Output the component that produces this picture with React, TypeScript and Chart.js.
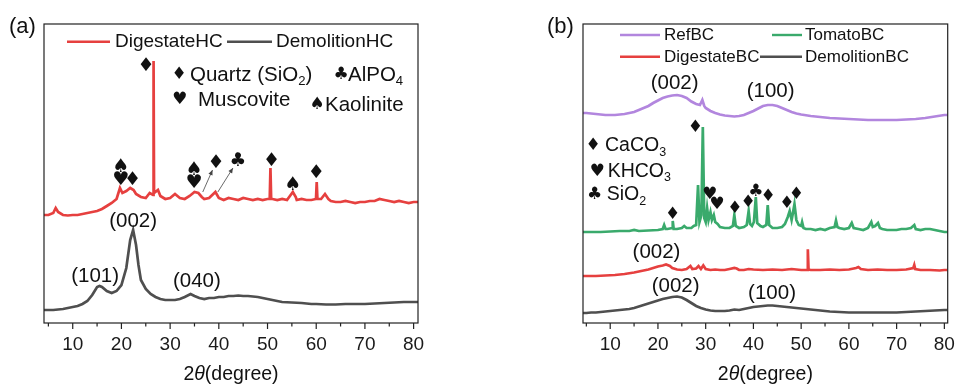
import React, { useEffect, useRef } from 'react';
import { Chart, registerables } from 'chart.js';
Chart.register(...registerables);

const FONT = "'Liberation Sans', Arial, Helvetica, sans-serif";
const SYM_FONT = "'DejaVu Sans', sans-serif";

const TICK_VALUES = [10, 20, 30, 40, 50, 60, 70, 80];
const MINOR_TICK_VALUES = [5, 15, 25, 35, 45, 55, 65, 75];

// ---------- Panel (a) ----------
const digestateHC_x = [4.1, 5, 6, 6.5, 7, 8, 9, 10, 11, 12, 13, 14, 15, 16, 17, 18, 19, 19.7, 20.2, 21, 21.8, 22.5, 23, 24, 25, 25.8, 26.5, 26.6, 26.7, 27.5, 28, 29, 30, 31, 32, 33, 34, 35, 35.8, 36.5, 37, 38, 39.3, 40, 41, 42, 43, 44, 45, 46, 47, 48, 49, 50, 50.45, 50.6, 50.75, 51, 52, 53, 54, 55.2, 55.8, 56, 57, 58, 59, 59.95, 60.1, 60.25, 61, 61.8, 62.5, 63, 64, 65, 66, 67, 68, 69, 70, 71, 72, 73, 74, 75, 76, 77, 78, 79, 80, 80.9];
const digestateHC_y = [108, 108, 110, 115, 111, 108, 107.5, 108, 108, 109, 110, 111, 112, 114, 117, 120, 124, 135, 130, 132, 135, 133, 129, 126, 125, 130, 128, 262, 130, 133, 127, 124, 125, 129, 125, 124, 127, 131, 130, 126, 124, 125, 131, 125, 123, 125, 124, 123, 125, 124, 123, 124, 123, 124, 124, 155, 124, 124, 123, 124, 123, 131, 126, 123, 124, 123, 123, 124, 141, 124, 124, 129, 124, 122, 121, 121, 122, 121, 120, 121, 121, 122, 122, 124, 123, 122, 121, 122, 121, 120, 121, 121];

const demolitionHC_x = [4.1, 5, 6, 7, 8, 9, 10, 11, 12, 13, 14, 15, 15.5, 16, 17, 18, 19, 20, 21, 21.8, 22.4, 23, 23.5, 24, 25, 26, 27, 28, 29, 30, 31, 32, 33, 34.2, 35, 36, 37, 38, 39, 40, 41, 42, 43, 44, 45, 46, 47, 48, 49, 50, 51, 52, 53, 55, 57, 59, 60, 62, 64, 66, 68, 70, 72, 74, 76, 78, 80, 80.9];
const demolitionHC_y = [13, 13, 13, 13.5, 14, 15, 16, 17, 19, 22, 28, 36, 37, 36, 32, 30, 32, 38, 55, 83, 93, 78, 58, 43, 34, 29, 26, 24, 23, 23, 23, 24, 26, 29, 27, 25, 24, 25, 25, 26, 26, 27, 27, 27.5, 27, 27, 26.5, 26, 25, 24, 23, 22, 21, 20.5, 20, 19, 19, 18.5, 18.5, 19, 19, 19, 19.5, 20, 20.5, 21, 21, 21];

// ---------- Panel (b) ----------
const refBC_x = [4.3, 5, 6, 7, 8, 9, 10, 11, 12, 13, 14, 15, 16, 17, 18, 19, 20, 21, 22, 23, 24, 25, 26, 27, 28, 28.8, 29.3, 29.7, 30, 31, 32, 33, 34, 35, 36, 37, 38, 39, 40, 41, 42, 43, 44, 45, 46, 47, 48, 49, 50, 52, 54, 56, 58, 60, 62, 64, 66, 68, 70, 72, 74, 76, 78, 80, 80.7];
const refBC_y = [210, 210, 209.5, 209, 208.5, 208, 208, 208, 208.5, 209, 210, 211, 213, 215, 217, 220, 222.5, 225, 226.5, 227.5, 228, 227, 225, 221.5, 219, 218, 223, 217, 215, 212, 210, 208.5, 207.5, 207, 206.5, 207, 208, 210, 212, 214.5, 217, 218, 218, 217, 215, 213, 211, 209.5, 208.5, 207, 206, 205, 204.5, 204, 203.5, 203, 203, 203, 203, 203.5, 204, 205, 206.5, 208, 208];

const tomatoBC_x = [4.3, 5, 8, 10, 12, 14, 15, 16, 18, 20, 21, 21.3, 21.6, 22, 23, 23.1, 23.3, 24, 25, 25.5, 26, 27, 27.5, 28, 28.4, 28.7, 29.1, 29.4, 29.7, 30, 30.3, 30.6, 31, 31.3, 31.7, 32, 32.5, 33, 34, 35, 35.7, 36.0, 36.3, 37, 38, 38.6, 39.0, 39.3, 39.7, 40.1, 40.5, 40.8, 41.5, 42, 42.7, 43.0, 43.3, 44, 45, 46, 46.6, 47.2, 47.6, 48.0, 48.2, 48.6, 49.0, 49.5, 50, 50.2, 50.5, 51, 52, 53, 54, 55, 56, 57, 57.3, 57.6, 58, 59, 60, 60.6, 61, 62, 63, 64, 64.7, 65, 65.5, 66.1, 66.5, 67, 68, 69, 70, 71, 72, 73, 73.7, 74, 75, 76, 77, 78, 79, 80, 80.7];
const tomatoBC_y = [91, 91, 91, 91.5, 92, 92, 93, 92, 92.5, 93, 94, 98, 94, 94, 95, 102, 94, 94, 95, 97, 95, 95, 97, 98, 138, 101, 108, 196, 105, 101, 115, 103, 111, 103, 108, 101, 99, 96, 95, 95, 97, 108, 97, 95, 96, 98, 112, 99, 97, 101, 126, 100, 97, 96, 98, 118, 98, 95, 95, 96, 99, 106, 112, 103, 108, 119, 103, 98, 97, 101, 95, 94, 94, 93, 94, 93, 95, 96, 102.5, 96, 95, 94, 95, 100, 95, 94, 93, 95, 101, 96, 97, 100, 95, 94, 93, 93, 93, 94, 94, 95, 98, 94, 93, 94, 94, 93, 92, 91, 91];

const digestateBC_x = [4.3, 5, 7, 9, 11, 13, 15, 16, 17, 18, 19, 20, 21, 21.7, 22.5, 23, 24, 25, 26, 26.8, 27.2, 28, 28.5, 29, 29.5, 30, 31, 32, 33, 34, 35, 36, 36.5, 37, 38, 39, 40, 42, 44, 46, 48, 50, 51, 51.25, 51.4, 51.55, 52, 54, 56, 58, 60, 61.5, 62, 62.5, 64, 66, 68, 70, 72, 73.5, 73.7, 73.9, 75, 77, 79, 80, 80.7];
const digestateBC_y = [47, 47, 47, 47.5, 48, 49, 50.5, 51.5, 52.5, 53.5, 55, 56.5, 57.5, 58.5, 57, 55, 53.5, 53, 54, 57, 54, 54.5, 57, 54, 57.5, 54, 53, 53.5, 53, 53, 54, 55, 54.5, 53, 53, 54, 53.5, 53, 53.5, 53, 54, 53, 53, 53, 73.7, 53.5, 53, 53, 53.5, 53, 53.5, 55, 56, 54, 53, 53.5, 53, 53, 53.5, 55, 58, 54, 53, 53, 52.5, 53, 53];

const demolitionBC_x = [4.3, 5, 6, 7, 8, 9, 10, 11, 12, 13, 14, 15, 16, 17, 18, 19, 20, 21, 22, 23, 24, 25, 26, 27, 28, 29, 30, 31, 32, 33, 34, 35, 36, 37, 38, 39, 40, 41, 42, 43, 44, 45, 46, 47, 48, 49, 50, 52, 54, 56, 58, 60, 62, 64, 66, 68, 70, 72, 74, 76, 78, 80, 80.7];
const demolitionBC_y = [10, 10, 10.5, 10.5, 11, 11.5, 12, 12.5, 13, 13.5, 14, 15, 16.5, 18, 19.5, 21, 22.5, 24, 25, 26, 26.5, 25.5, 23, 20, 17, 15, 13.5, 12.5, 12, 12, 12, 12.5, 13.5, 13, 14, 15, 16, 16.5, 17, 17.5, 17.5, 17, 16.5, 16, 15.5, 15, 14.5, 13.5, 12.5, 11.5, 11, 10.5, 10.5, 10.5, 10.5, 10.5, 10.5, 11, 11.5, 12, 12.5, 13, 13];

// ---------- annotations (data coordinates) ----------
const peakLabelsA = [
  { x: 22.4, y: 101.3, t: '(002)' },
  { x: 14.6, y: 46.3, t: '(101)' },
  { x: 35.5, y: 41.3, t: '(040)' },
];
const markersA = [
  { x: 25.04, y: 257, s: '♦' },
  { x: 19.85, y: 156.3, s: '♠' },
  { x: 19.85, y: 143, s: '♥' },
  { x: 22.3, y: 143, s: '♦' },
  { x: 34.9, y: 153, s: '♠' },
  { x: 34.9, y: 140, s: '♥' },
  { x: 39.4, y: 160, s: '♦' },
  { x: 43.9, y: 162.3, s: '♣' },
  { x: 50.8, y: 162, s: '♦' },
  { x: 55.2, y: 138, s: '♠' },
  { x: 60.0, y: 150.3, s: '♦' },
];
const arrowsA = [
  { x0: 36.7, y0: 131, x1: 38.7, y1: 153 },
  { x0: 39.8, y0: 131, x1: 42.9, y1: 155 },
];
const peakLabelsB = [
  { x: 23.5, y: 239.7, t: '(002)' },
  { x: 43.6, y: 231.3, t: '(100)' },
  { x: 19.7, y: 70.3, t: '(002)' },
  { x: 23.7, y: 36.3, t: '(002)' },
  { x: 43.9, y: 29.7, t: '(100)' },
];
const markersB = [
  { x: 27.85, y: 195.7, s: '♦' },
  { x: 23.1, y: 108, s: '♦' },
  { x: 30.85, y: 128, s: '♥' },
  { x: 32.35, y: 118, s: '♥' },
  { x: 36.1, y: 114.7, s: '♦' },
  { x: 38.9, y: 120.3, s: '♦' },
  { x: 40.5, y: 131.3, s: '♣' },
  { x: 43.1, y: 126.3, s: '♦' },
  { x: 47.0, y: 119.7, s: '♦' },
  { x: 49.0, y: 128, s: '♦' },
];

type Seg = { t: string; sub?: boolean };
type SymLegend = { sym: string; sx: number; tx: number; y: number; segs: Seg[] };
type LineLegend = { ds: number; x0: number; x1: number; tx: number; y: number };
type Decor = {
  panel: string;
  panelX: number;
  lineLegend: LineLegend[];
  lineLegendSize: number;
  symLegend: SymLegend[];
  symLegendSize: number;
  symLegendSymSize: number;
  peakLabels: { x: number; y: number; t: string }[];
  markers: { x: number; y: number; s: string }[];
  markerSize: number;
  arrows: { x0: number; y0: number; x1: number; y1: number }[];
};

function drawRich(ctx: CanvasRenderingContext2D, segs: Seg[], x: number, y: number, size: number) {
  let cx = x;
  for (const s of segs) {
    const fs = s.sub ? size * 0.64 : size;
    ctx.font = `${fs}px ${FONT}`;
    ctx.fillText(s.t, cx, s.sub ? y + size * 0.32 : y);
    cx += ctx.measureText(s.t).width;
  }
}

function makeDecor(d: Decor) {
  return {
    id: 'decor',
    afterDraw(chart: any) {
      const { ctx, chartArea: a, scales } = chart;
      const xs = scales.x;
      const ys = scales.y;
      ctx.save();
      // frame
      ctx.strokeStyle = '#222';
      ctx.lineWidth = 1.2;
      ctx.strokeRect(a.left, a.top, a.right - a.left, a.bottom - a.top);
      // ticks
      ctx.beginPath();
      for (const v of TICK_VALUES) {
        const px = xs.getPixelForValue(v);
        ctx.moveTo(px, a.bottom);
        ctx.lineTo(px, a.bottom + 6);
      }
      for (const v of MINOR_TICK_VALUES) {
        const px = xs.getPixelForValue(v);
        ctx.moveTo(px, a.bottom);
        ctx.lineTo(px, a.bottom + 3.5);
      }
      ctx.stroke();

      ctx.fillStyle = '#111';
      ctx.textBaseline = 'middle';
      // axis title 2θ(degree)
      {
        const size = 19.5;
        const parts = [
          { t: '2', f: `${size}px ${FONT}` },
          { t: 'θ', f: `italic ${size}px ${FONT}` },
          { t: '(degree)', f: `${size}px ${FONT}` },
        ];
        let w = 0;
        for (const p of parts) { ctx.font = p.f; w += ctx.measureText(p.t).width; }
        let cx = (a.left + a.right) / 2 - w / 2;
        ctx.textAlign = 'left';
        for (const p of parts) { ctx.font = p.f; ctx.fillText(p.t, cx, 375); cx += ctx.measureText(p.t).width; }
      }
      // panel label
      ctx.textAlign = 'left';
      ctx.font = `22px ${FONT}`;
      ctx.fillText(d.panel, d.panelX, 26.5);

      // line legend
      for (const l of d.lineLegend) {
        const ds = chart.data.datasets[l.ds];
        ctx.strokeStyle = ds.borderColor;
        ctx.lineWidth = 2.4;
        ctx.beginPath();
        ctx.moveTo(a.left + l.x0, a.top + l.y);
        ctx.lineTo(a.left + l.x1, a.top + l.y);
        ctx.stroke();
        ctx.font = `${d.lineLegendSize}px ${FONT}`;
        ctx.fillText(ds.label, a.left + l.tx, a.top + l.y + 0.5);
      }
      // symbol legend
      for (const s of d.symLegend) {
        ctx.textAlign = 'center';
        ctx.font = `${d.symLegendSymSize}px ${SYM_FONT}`;
        ctx.fillText(s.sym, a.left + s.sx, a.top + s.y);
        ctx.textAlign = 'left';
        drawRich(ctx, s.segs, a.left + s.tx, a.top + s.y, d.symLegendSize);
      }
      // peak labels
      ctx.textAlign = 'center';
      ctx.font = `20.5px ${FONT}`;
      for (const p of d.peakLabels) {
        ctx.fillText(p.t, xs.getPixelForValue(p.x), ys.getPixelForValue(p.y));
      }
      // markers
      ctx.font = `${d.markerSize}px ${SYM_FONT}`;
      for (const m of d.markers) {
        ctx.fillText(m.s, xs.getPixelForValue(m.x), ys.getPixelForValue(m.y));
      }
      // arrows
      ctx.strokeStyle = '#444';
      ctx.fillStyle = '#444';
      ctx.lineWidth = 0.8;
      for (const ar of d.arrows) {
        const x0 = xs.getPixelForValue(ar.x0), y0 = ys.getPixelForValue(ar.y0);
        const x1 = xs.getPixelForValue(ar.x1), y1 = ys.getPixelForValue(ar.y1);
        ctx.beginPath(); ctx.moveTo(x0, y0); ctx.lineTo(x1, y1); ctx.stroke();
        const ang = Math.atan2(y1 - y0, x1 - x0);
        const L = 5, W = 2.2;
        ctx.beginPath();
        ctx.moveTo(x1, y1);
        ctx.lineTo(x1 - L * Math.cos(ang) + W * Math.sin(ang), y1 - L * Math.sin(ang) - W * Math.cos(ang));
        ctx.lineTo(x1 - L * Math.cos(ang) - W * Math.sin(ang), y1 - L * Math.sin(ang) + W * Math.cos(ang));
        ctx.closePath(); ctx.fill();
      }
      ctx.restore();
    },
  };
}

function series(label: string, xs: number[], ys: number[], color: string) {
  return {
    label,
    data: xs.map((x, i) => ({ x, y: ys[i] })),
    borderColor: color,
    backgroundColor: color,
    borderWidth: 2.7,
    pointRadius: 0,
    tension: 0,
  };
}

const RED = '#e6403f';
const GRAY = '#4f4f4f';
const PURPLE = '#b286de';
const GREEN = '#3aaa6c';

function Panel(props: { left: number; width: number; padLeft: number; padRight: number; xMin: number; xMax: number; datasets: any[]; decor: Decor }) {
  const ref = useRef<HTMLCanvasElement>(null);
  useEffect(() => {
    const chart = new Chart(ref.current as HTMLCanvasElement, {
      type: 'line',
      data: { datasets: props.datasets },
      options: {
        responsive: false,
        animation: false,
        layout: { padding: { left: props.padLeft, right: props.padRight, top: 24, bottom: 0 } },
        plugins: { legend: { display: false }, tooltip: { enabled: false } },
        scales: {
          x: {
            type: 'linear',
            min: props.xMin,
            max: props.xMax,
            grid: { display: false, drawTicks: false },
            border: { display: false },
            ticks: { font: { family: FONT, size: 19 }, color: '#1a1a1a', padding: 10, maxRotation: 0, autoSkip: false },
            afterBuildTicks: (s: any) => { s.ticks = TICK_VALUES.map((v) => ({ value: v })); },
            afterFit: (s: any) => { s.height = 62; },
          },
          y: { display: false, min: 0, max: 299 },
        },
      } as any,
      plugins: [makeDecor(props.decor)],
    });
    return () => chart.destroy();
  }, []);
  return (
    <canvas
      ref={ref}
      width={props.width}
      height={385}
      style={{ position: 'absolute', left: props.left, top: 0, width: props.width, height: 385 }}
    />
  );
}

const decorA: Decor = {
  panel: '(a)',
  panelX: 9,
  lineLegend: [
    { ds: 0, x0: 23, x1: 66, tx: 71, y: 17.7 },
    { ds: 1, x0: 183, x1: 228, tx: 232, y: 17.7 },
  ],
  lineLegendSize: 19,
  symLegend: [
    { sym: '♦', sx: 135, tx: 146, y: 51, segs: [{ t: 'Quartz (SiO' }, { t: '2', sub: true }, { t: ')' }] },
    { sym: '♣', sx: 297, tx: 304, y: 51, segs: [{ t: 'AlPO' }, { t: '4', sub: true }] },
    { sym: '♥', sx: 135.5, tx: 154, y: 76, segs: [{ t: 'Muscovite' }] },
    { sym: '♠', sx: 273, tx: 281, y: 81, segs: [{ t: 'Kaolinite' }] },
  ],
  symLegendSize: 20.5,
  symLegendSymSize: 17,
  peakLabels: peakLabelsA,
  markers: markersA,
  markerSize: 19,
  arrows: arrowsA,
};

const decorB: Decor = {
  panel: '(b)',
  panelX: 17,
  lineLegend: [
    { ds: 0, x0: 37, x1: 77, tx: 81, y: 11 },
    { ds: 1, x0: 189, x1: 219, tx: 222, y: 11 },
    { ds: 2, x0: 37, x1: 77, tx: 81, y: 32.7 },
    { ds: 3, x0: 177, x1: 219, tx: 222, y: 32.7 },
  ],
  lineLegendSize: 17,
  symLegend: [
    { sym: '♦', sx: 10, tx: 22, y: 122, segs: [{ t: 'CaCO' }, { t: '3', sub: true }] },
    { sym: '♥', sx: 14, tx: 24.7, y: 147.5, segs: [{ t: 'KHCO' }, { t: '3', sub: true }] },
    { sym: '♣', sx: 11.5, tx: 23.7, y: 171, segs: [{ t: 'SiO' }, { t: '2', sub: true }] },
  ],
  symLegendSize: 19.5,
  symLegendSymSize: 17,
  peakLabels: peakLabelsB,
  markers: markersB,
  markerSize: 17,
  arrows: [],
};

export default function App() {
  const dsA = [
    series('DigestateHC', digestateHC_x, digestateHC_y, RED),
    series('DemolitionHC', demolitionHC_x, demolitionHC_y, GRAY),
  ];
  const dsB = [
    series('RefBC', refBC_x, refBC_y, PURPLE),
    series('TomatoBC', tomatoBC_x, tomatoBC_y, GREEN),
    series('DigestateBC', digestateBC_x, digestateBC_y, RED),
    series('DemolitionBC', demolitionBC_x, demolitionBC_y, GRAY),
  ];
  return (
    <div style={{ position: 'fixed', left: 0, top: 0, width: 965, height: 385, background: '#fff' }}>
      <Panel left={0} width={530} padLeft={44} padRight={112} xMin={4.1} xMax={80.9} datasets={dsA} decor={decorA} />
      <Panel left={530} width={435} padLeft={53} padRight={8} xMin={4.3} xMax={80.7} datasets={dsB} decor={decorB} />
    </div>
  );
}
